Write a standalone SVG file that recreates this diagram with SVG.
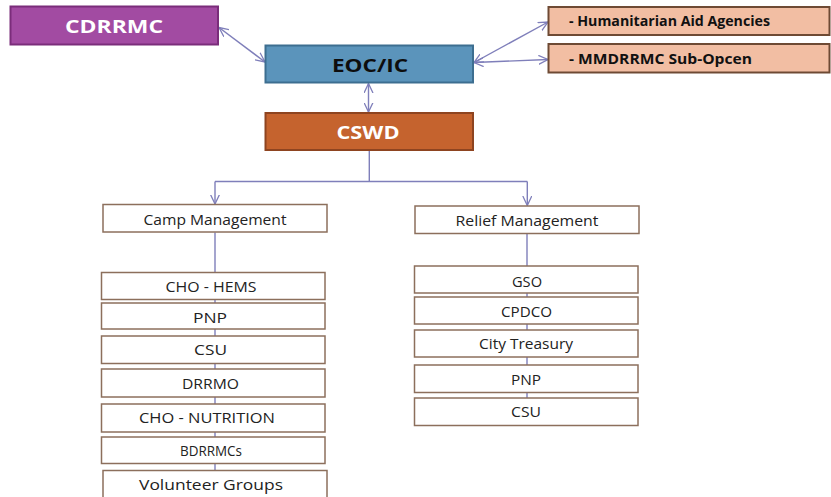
<svg xmlns="http://www.w3.org/2000/svg" width="831" height="497" viewBox="0 0 831 497">
<style>
  .t { font-family: "Open Sans", "Liberation Sans", sans-serif; }
  .big { font-size: 18px; font-weight: bold; text-anchor: middle; }
  .side { font-size: 13.5px; font-weight: bold; fill: #111; }
  .reg { font-size: 14px; fill: #222; text-anchor: middle; }
  .wbox { fill: #ffffff; stroke: #8c6f5c; stroke-width: 1.5; }
  .conn { stroke: #7f7fba; stroke-width: 1.4; fill: none; }
  .conn2 { stroke: #7f7fba; stroke-width: 1.4; fill: none; marker-start: url(#arr); marker-end: url(#arr); }
  .conn1 { stroke: #7f7fba; stroke-width: 1.4; fill: none; marker-end: url(#arr); }
</style>
<defs>
  <marker id="arr" viewBox="0 0 10 10" refX="9.5" refY="5" markerWidth="10" markerHeight="10" markerUnits="userSpaceOnUse" orient="auto-start-reverse">
    <path d="M0,0.5 L9.5,5 L0,9.5" fill="none" stroke="#7f7fba" stroke-width="1.3"/>
  </marker>
</defs>
<rect width="831" height="497" fill="#ffffff"/>

<g id="connectors">
  <line class="conn2" x1="219" y1="27.5" x2="265" y2="62"/>
  <line class="conn2" x1="474" y1="62.5" x2="548" y2="22"/>
  <line class="conn2" x1="474" y1="62.5" x2="548" y2="59.5"/>
  <line class="conn2" x1="368.5" y1="83.5" x2="368.5" y2="112"/>
  <polyline class="conn" points="369.3,150.5 369.3,181.5"/>
  <line class="conn" x1="215" y1="181.5" x2="527.3" y2="181.5"/>
  <line class="conn1" x1="215" y1="181.5" x2="215" y2="204"/>
  <line class="conn1" x1="527.3" y1="181.5" x2="527.3" y2="205.5"/>
  <line class="conn" x1="215" y1="232.5" x2="215" y2="471"/>
  <line class="conn" x1="527" y1="233.5" x2="527" y2="398"/>
</g>

<g id="cdrrmc">
  <rect x="10.5" y="6.5" width="207.5" height="38" fill="#a24ba2" stroke="#7a2d7a" stroke-width="2"/>
  <text class="t big" x="114" y="33" fill="#ffffff" textLength="98" lengthAdjust="spacingAndGlyphs">CDRRMC</text>
</g>
<g id="eoc">
  <rect x="265.5" y="45.5" width="207.5" height="37" fill="#5b94bb" stroke="#3d6e90" stroke-width="2"/>
  <text class="t big" x="370" y="71.5" fill="#0d0d0d" textLength="76" lengthAdjust="spacingAndGlyphs">EOC/IC</text>
</g>
<g id="cswd">
  <rect x="265.5" y="113" width="207.5" height="37" fill="#c5632e" stroke="#8e4420" stroke-width="2"/>
  <text class="t big" x="368" y="139" fill="#ffffff" textLength="63" lengthAdjust="spacingAndGlyphs">CSWD</text>
</g>
<g id="humanitarian">
  <rect x="548.5" y="7" width="281" height="28" fill="#f2bea3" stroke="#6e4a34" stroke-width="2"/>
  <text class="t side" x="569" y="26" textLength="201" lengthAdjust="spacingAndGlyphs">- Humanitarian Aid Agencies</text>
</g>
<g id="mmdrrmc">
  <rect x="548.5" y="44" width="281" height="28.5" fill="#f2bea3" stroke="#6e4a34" stroke-width="2"/>
  <text class="t side" x="569" y="64" textLength="183" lengthAdjust="spacingAndGlyphs">- MMDRRMC Sub-Opcen</text>
</g>

<g id="camp-management">
  <rect class="wbox" x="103" y="204.5" width="224" height="27.5"/>
  <text class="t reg" x="215" y="224.5" textLength="143" lengthAdjust="spacingAndGlyphs">Camp Management</text>
</g>
<g id="relief-management">
  <rect class="wbox" x="415" y="206" width="224" height="27.5"/>
  <text class="t reg" x="527" y="225.5" textLength="143" lengthAdjust="spacingAndGlyphs">Relief Management</text>
</g>

<g id="cho-hems">
  <rect class="wbox" x="101.5" y="272.5" width="223.5" height="27"/>
  <text class="t reg" x="211" y="292.3" textLength="91" lengthAdjust="spacingAndGlyphs">CHO - HEMS</text>
</g>
<g id="pnp-left">
  <rect class="wbox" x="101.5" y="303" width="223.5" height="26"/>
  <text class="t reg" x="210" y="323.3" textLength="34" lengthAdjust="spacingAndGlyphs">PNP</text>
</g>
<g id="csu-left">
  <rect class="wbox" x="101.5" y="336" width="223.5" height="27.5"/>
  <text class="t reg" x="210.5" y="355" textLength="33" lengthAdjust="spacingAndGlyphs">CSU</text>
</g>
<g id="drrmo">
  <rect class="wbox" x="101.5" y="369" width="223.5" height="28"/>
  <text class="t reg" x="210.5" y="389.3" textLength="57" lengthAdjust="spacingAndGlyphs">DRRMO</text>
</g>
<g id="cho-nutrition">
  <rect class="wbox" x="101.5" y="404" width="223.5" height="28"/>
  <text class="t reg" x="207" y="423.3" textLength="136" lengthAdjust="spacingAndGlyphs">CHO - NUTRITION</text>
</g>
<g id="bdrrmcs">
  <rect class="wbox" x="101.5" y="437" width="223.5" height="26.5"/>
  <text class="t reg" x="211" y="456" textLength="62" lengthAdjust="spacingAndGlyphs">BDRRMCs</text>
</g>
<g id="volunteer-groups">
  <rect class="wbox" x="103" y="470.5" width="224" height="30"/>
  <text class="t reg" x="211" y="489.5" textLength="144" lengthAdjust="spacingAndGlyphs">Volunteer Groups</text>
</g>

<g id="gso">
  <rect class="wbox" x="414.5" y="266" width="223.5" height="27"/>
  <text class="t reg" x="527" y="286.7" textLength="30" lengthAdjust="spacingAndGlyphs">GSO</text>
</g>
<g id="cpdco">
  <rect class="wbox" x="414.5" y="297" width="223.5" height="27"/>
  <text class="t reg" x="526.5" y="316.7" textLength="51" lengthAdjust="spacingAndGlyphs">CPDCO</text>
</g>
<g id="city-treasury">
  <rect class="wbox" x="414.5" y="330" width="223.5" height="27"/>
  <text class="t reg" x="526" y="349" textLength="94" lengthAdjust="spacingAndGlyphs">City Treasury</text>
</g>
<g id="pnp-right">
  <rect class="wbox" x="414.5" y="365" width="223.5" height="27.5"/>
  <text class="t reg" x="526" y="384.5" textLength="30" lengthAdjust="spacingAndGlyphs">PNP</text>
</g>
<g id="csu-right">
  <rect class="wbox" x="414.5" y="398" width="223.5" height="27.5"/>
  <text class="t reg" x="526" y="417" textLength="30" lengthAdjust="spacingAndGlyphs">CSU</text>
</g>
</svg>
